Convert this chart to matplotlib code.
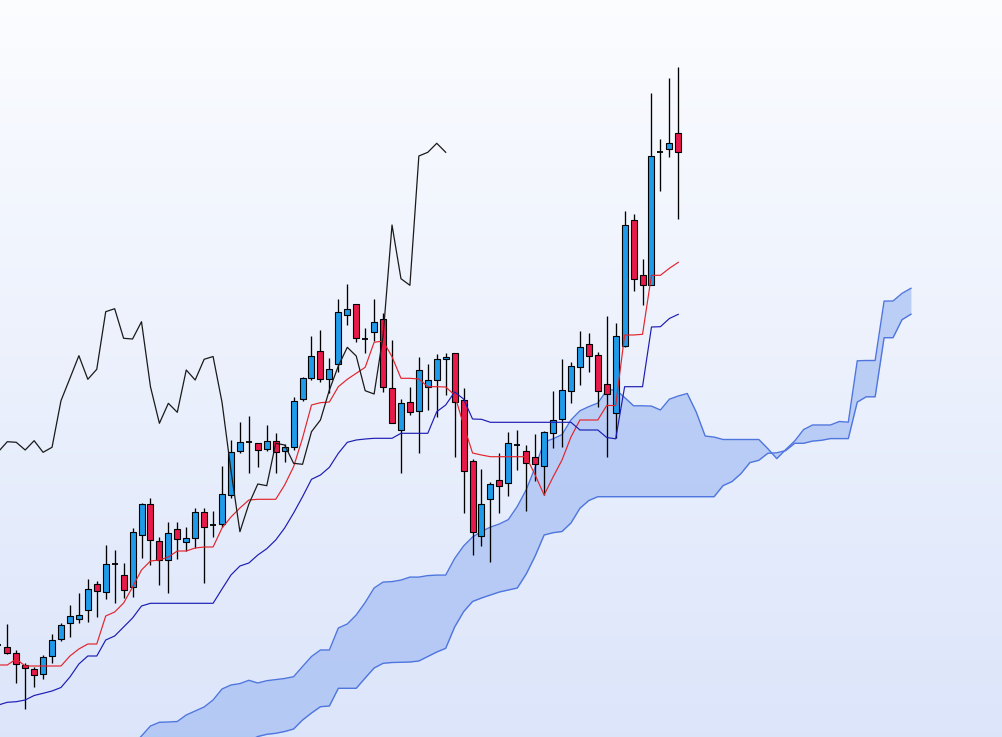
import numpy as np
import matplotlib
matplotlib.use("Agg")
import matplotlib.pyplot as plt
from matplotlib.patches import Rectangle

# ---------------- data (candles start at index -1) ----------------
first_index = -1
opens = [135.50, 135.27, 134.67, 133.47, 133.07, 132.57, 134.40, 136.07, 137.73, 138.07,
         138.97, 141.57, 140.77, 143.60, 142.47, 141.27, 146.47, 149.57, 145.87, 143.97,
         147.07, 145.77, 146.17, 148.85, 147.53, 147.65, 150.50, 154.93, 155.77, 155.67,
         155.07, 155.93, 154.87, 155.27, 160.07, 162.17, 164.93, 162.07, 163.60, 168.50,
         169.57, 166.10, 166.83, 168.07, 161.17, 157.00, 159.83, 158.90, 161.27, 162.00,
         164.07, 164.67, 160.00, 153.90, 146.43, 150.07, 151.97, 151.67, 155.50, 154.93,
         154.27, 153.40, 156.67, 158.07, 160.87, 163.27, 165.60, 164.50, 161.60, 158.67,
         165.40, 178.00, 172.47, 171.47, 184.77, 185.07, 186.67]
highs = [135.80, 137.60, 135.00, 133.73, 133.33, 134.50, 136.60, 137.67, 139.50, 140.67,
         142.07, 141.90, 145.50, 145.00, 143.67, 147.23, 149.67, 150.17, 146.27, 147.77,
         147.77, 147.27, 149.17, 149.17, 148.93, 153.40, 156.00, 157.77, 158.40, 155.73,
         157.47, 156.67, 155.60, 160.33, 162.27, 166.40, 167.00, 164.17, 170.07, 171.60,
         169.57, 167.17, 170.07, 168.67, 166.00, 160.07, 161.27, 164.27, 163.60, 164.60,
         164.73, 164.67, 161.17, 154.07, 153.10, 151.77, 154.67, 156.83, 157.00, 155.50,
         156.60, 156.90, 160.90, 164.07, 163.83, 166.90, 166.67, 164.83, 168.40, 167.67,
         178.90, 178.60, 174.10, 190.73, 186.10, 192.23, 193.33]
lows = [135.00, 134.60, 131.70, 129.07, 131.27, 132.07, 133.67, 135.87, 136.33, 137.73,
        137.83, 138.27, 140.07, 139.73, 140.17, 140.33, 144.17, 143.50, 141.47, 140.67,
        144.07, 144.93, 145.17, 141.73, 146.27, 147.33, 150.17, 154.73, 152.67, 153.27,
        154.87, 152.67, 153.83, 155.00, 159.93, 162.00, 161.83, 160.67, 162.83, 167.50,
        165.83, 164.73, 165.93, 160.83, 157.67, 152.67, 158.50, 154.73, 159.00, 158.27,
        160.50, 154.33, 148.73, 144.50, 145.40, 143.83, 148.67, 150.43, 153.00, 148.93,
        151.93, 150.50, 155.23, 155.33, 159.73, 161.50, 162.83, 159.33, 154.33, 156.17,
        165.30, 170.93, 169.50, 171.47, 180.93, 184.33, 178.07]
closes = [135.50, 134.67, 133.60, 133.17, 132.50, 134.27, 135.97, 137.47, 138.40, 138.50,
          141.07, 140.90, 143.57, 143.60, 141.00, 146.77, 149.57, 145.97, 143.97, 146.67,
          146.07, 146.17, 148.77, 147.35, 147.53, 150.57, 154.83, 155.83, 155.77, 155.00,
          155.93, 154.77, 155.27, 159.93, 162.17, 164.43, 162.07, 163.07, 168.83, 169.13,
          166.17, 166.10, 167.83, 161.33, 157.67, 159.67, 158.77, 163.00, 162.00, 164.07,
          164.35, 159.77, 152.93, 146.83, 149.60, 151.60, 151.43, 155.67, 155.50, 153.67,
          153.57, 156.83, 158.00, 161.00, 163.40, 165.27, 164.40, 160.93, 160.60, 166.40,
          177.50, 172.13, 171.47, 184.40, 184.77, 185.67, 184.77]

# Ichimoku lines (same indices as candles)
tenkan = [133.50, 133.50, 134.10, 133.40, 133.40, 133.40, 133.40, 133.40, 134.40, 135.10,
          135.60, 135.60, 138.40, 138.80, 139.70, 141.30, 143.00, 143.90, 144.00, 144.30,
          144.90, 144.90, 145.20, 145.30, 145.30, 147.20, 148.30, 149.20, 150.00, 150.07,
          150.07, 150.07, 151.50, 153.33, 156.20, 159.50, 159.73, 159.80, 161.33, 162.07,
          162.67, 163.27, 165.77, 165.90, 164.33, 162.17, 162.17, 162.10, 161.33, 161.33,
          161.30, 160.50, 157.50, 154.70, 154.50, 154.33, 154.33, 154.33, 154.33, 154.33,
          152.50, 150.50, 152.30, 154.00, 156.30, 158.00, 158.00, 158.00, 159.45, 159.45,
          166.50, 166.50, 166.57, 172.47, 172.47, 173.17, 173.77]
kijun = [129.50, 129.77, 129.83, 130.00, 130.45, 130.67, 130.90, 131.25, 132.30, 133.60,
         134.40, 134.40, 136.00, 136.40, 137.30, 138.20, 139.40, 139.67, 139.67, 139.67,
         139.67, 139.67, 139.67, 139.67, 139.67, 141.10, 142.50, 143.40, 143.70, 144.50,
         145.13, 146.00, 147.20, 148.70, 150.33, 152.07, 152.50, 153.27, 154.67, 155.77,
         156.00, 156.10, 156.17, 156.17, 156.17, 156.67, 156.67, 156.67, 156.67, 158.83,
         159.50, 160.80, 160.10, 158.10, 158.07, 157.77, 157.77, 157.77, 157.77, 157.77,
         157.77, 157.77, 157.77, 157.77, 157.77, 157.00, 157.00, 157.00, 156.25, 156.12,
         161.33, 161.33, 161.33, 167.30, 167.33, 168.15, 168.57]

# Cloud (senkou spans), indices 14 .. 101
span_first = 14
span_a = [125.50, 126.40, 127.40, 127.77, 127.80, 127.85, 128.50, 128.90, 129.30, 130.00,
          131.10, 131.50, 131.64, 131.97, 131.70, 131.93, 132.04, 132.15, 132.33, 133.35,
          134.35, 135.00, 135.00, 137.20, 137.60, 138.50, 139.75, 141.20, 141.79, 141.84,
          141.99, 142.29, 142.29, 142.44, 142.49, 142.49, 144.15, 145.40, 146.30, 146.85,
          147.29, 147.60, 148.04, 149.35, 151.02, 153.27, 155.79, 156.12, 156.54, 158.00,
          158.92, 159.34, 159.69, 160.97, 161.04, 160.25, 159.42, 159.42, 159.39, 159.00,
          160.08, 160.40, 160.65, 158.80, 156.40, 156.29, 156.05, 156.05, 156.05, 156.05,
          156.05, 155.14, 154.14, 155.04, 155.89, 157.04, 157.50, 157.50, 157.50, 157.85,
          157.78, 163.92, 163.95, 163.95, 169.89, 169.90, 170.66, 171.17]
span_b = [122.50, 122.80, 123.00, 123.20, 123.50, 123.80, 124.00, 124.30, 124.50, 124.80,
          125.00, 125.20, 125.50, 125.90, 126.35, 126.57, 126.67, 126.85, 127.10, 128.00,
          128.70, 129.33, 129.40, 131.17, 131.17, 131.17, 132.20, 133.20, 133.67, 133.75,
          133.77, 133.80, 133.90, 134.35, 134.80, 135.17, 137.30, 138.83, 139.85, 140.20,
          140.50, 140.80, 141.00, 141.20, 142.60, 144.40, 146.50, 146.73, 146.85, 147.70,
          149.17, 149.95, 150.33, 150.33, 150.33, 150.33, 150.33, 150.33, 150.33, 150.33,
          150.33, 150.33, 150.33, 150.33, 150.33, 150.33, 151.44, 151.84, 152.64, 153.74,
          153.97, 154.67, 154.72, 154.94, 155.67, 155.67, 155.89, 155.97, 156.14, 156.14,
          156.14, 159.79, 160.32, 160.32, 166.23, 166.23, 168.03, 168.58]
chikou_shift = 26

# ---------------- styles ----------------
BULL = "#1f9be9"
BEAR = "#e8194b"
TENKAN_C = "#e3242b"
KIJUN_C = "#1c1cb4"
CHIKOU_C = "#1a1a1a"
CLOUD_FILL = "#9db8f2"
CLOUD_EDGE = "#4f76de"

XLIM = (-0.816, 111.29)
YLIM = (126.3, 200.0)

fig = plt.figure(figsize=(10.03, 7.37), dpi=100)
ax = fig.add_axes([0, 0, 1, 1])
ax.set_xlim(*XLIM)
ax.set_ylim(*YLIM)
ax.axis("off")

# background gradient
top = np.array([0.985, 0.99, 1.0])
bot = np.array([0.862, 0.898, 0.980])
t = np.linspace(0, 1, 256)[:, None]
grad = (top[None, :] * (1 - t) + bot[None, :] * t)[:, None, :]
ax.imshow(grad, extent=[XLIM[0], XLIM[1], YLIM[0], YLIM[1]], aspect="auto",
          origin="upper", zorder=0, interpolation="bilinear")

# cloud
sx = np.arange(span_first, span_first + len(span_a))
ax.fill_between(sx, span_a, span_b, color=CLOUD_FILL, alpha=0.62, lw=0, zorder=1)
ax.plot(sx, span_a, color=CLOUD_EDGE, lw=1.0, zorder=2)
ax.plot(sx, span_b, color=CLOUD_EDGE, lw=1.0, zorder=2)

# candles
cx = np.arange(first_index, first_index + len(opens))
w = 0.67
for x, o, h, l, c in zip(cx, opens, highs, lows, closes):
    ax.vlines(x, l, h, color="black", lw=0.95, zorder=4)
    if abs(c - o) < 0.05:
        ax.hlines(o, x - w / 2, x + w / 2, color="black", lw=1.3, zorder=5)
    else:
        col = BULL if c > o else BEAR
        ax.add_patch(Rectangle((x - w / 2, min(o, c)), w, abs(c - o), facecolor=col,
                               edgecolor="black", lw=0.8, zorder=5))

# lines
lx = np.arange(first_index, first_index + len(tenkan))
ax.plot(lx, tenkan, color=TENKAN_C, lw=0.85, zorder=6)
ax.plot(lx, kijun, color=KIJUN_C, lw=0.85, zorder=6)
ax.plot(cx - chikou_shift, closes, color=CHIKOU_C, lw=0.9, zorder=6)

fig.savefig("out.png", dpi=100)
